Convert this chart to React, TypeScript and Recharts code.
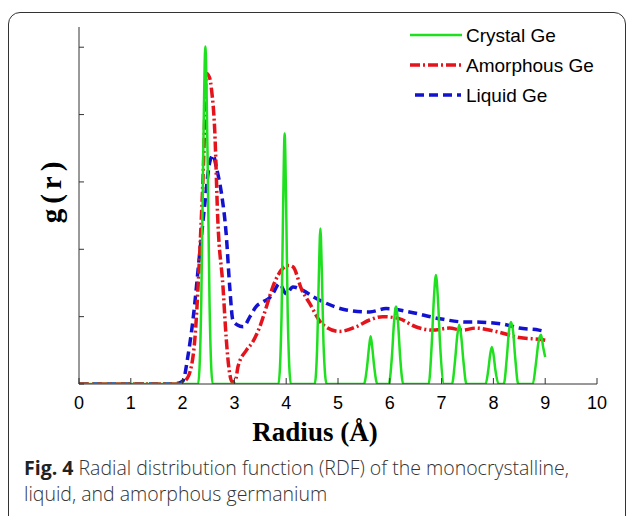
import { LineChart, Line, XAxis, YAxis } from "recharts"

// r in Angstrom, g(r) in units of the y tick spacing (ticks carry no labels)
const crystalR = [
  0, 2.3, 2.36, 2.4, 2.44, 2.48, 2.52, 2.58,
  3.85, 3.91, 3.94, 3.97, 4.0, 4.03, 4.09,
  4.55, 4.6, 4.63, 4.66, 4.69, 4.72, 4.78,
  5.5, 5.56, 5.6, 5.63, 5.66, 5.7, 5.76,
  5.98, 6.04, 6.08, 6.12, 6.16, 6.2, 6.26,
  6.75, 6.81, 6.85, 6.89, 6.93, 6.97, 7.05,
  7.2, 7.26, 7.3, 7.34, 7.38, 7.42, 7.48,
  7.85, 7.9, 7.94, 7.97, 8.0, 8.04, 8.1,
  8.2, 8.26, 8.3, 8.34, 8.38, 8.42, 8.48,
  8.76, 8.82, 8.87, 8.92, 8.96, 9.0,
]
const crystalG = [
  0, 0, 1.2, 3.5, 5.01, 3.5, 1.2, 0,
  0, 1.0, 2.6, 3.72, 2.6, 1.0, 0,
  0, 0.6, 1.6, 2.31, 1.6, 0.6, 0,
  0, 0.25, 0.55, 0.71, 0.55, 0.25, 0,
  0, 0.4, 0.9, 1.15, 0.9, 0.4, 0,
  0, 0.6, 1.25, 1.62, 1.25, 0.6, 0,
  0, 0.35, 0.7, 0.88, 0.7, 0.35, 0,
  0, 0.2, 0.45, 0.55, 0.45, 0.2, 0,
  0, 0.4, 0.78, 0.92, 0.78, 0.4, 0,
  0, 0.3, 0.62, 0.73, 0.55, 0.4,
]

const amorphR = [
  0, 1.9, 2.05, 2.15, 2.24, 2.33, 2.4, 2.46, 2.52, 2.56, 2.62, 2.68, 2.78, 2.84, 2.9, 2.96,
  3.02, 3.07, 3.23, 3.35, 3.49, 3.62, 3.74, 3.94, 4.05, 4.13, 4.3, 4.45, 4.71, 5.03, 5.35,
  5.61, 5.86, 6.18, 6.5, 6.83, 7.15, 7.4, 7.66, 8.05, 8.5, 8.92, 9.0,
]
const amorphG = [
  0, 0, 0.05, 0.2, 0.7, 1.94, 3.18, 4.61, 4.55, 4.36, 3.77, 2.43, 1.44, 0.7, 0.2, 0.03,
  0.05, 0.26, 0.5, 0.62, 0.85, 1.15, 1.44, 1.72, 1.76, 1.74, 1.4, 1.2, 0.88, 0.78, 0.85,
  0.95, 1.0, 0.97, 0.85, 0.8, 0.83, 0.8, 0.83, 0.78, 0.69, 0.66, 0.65,
]

const liquidR = [
  0, 1.8, 1.95, 2.01, 2.1, 2.2, 2.33, 2.43, 2.52, 2.59, 2.65, 2.75, 2.84, 2.91, 2.97, 3.05,
  3.17, 3.3, 3.42, 3.55, 3.68, 3.74, 3.87, 4.0, 4.13, 4.32, 4.51, 4.71, 5.16, 5.61, 5.93,
  6.38, 6.96, 7.47, 7.6, 8.18, 8.5, 8.88, 9.0,
]
const liquidG = [
  0, 0, 0.02, 0.05, 0.4, 0.95, 1.94, 2.68, 3.28, 3.4, 3.22, 2.83, 2.24, 1.44, 0.95, 0.88,
  0.85, 1.0, 1.15, 1.22, 1.28, 1.34, 1.49, 1.34, 1.44, 1.39, 1.3, 1.22, 1.1, 1.07, 1.12,
  1.07, 0.97, 0.92, 0.92, 0.89, 0.83, 0.8, 0.78,
]

const xTicks = [0, 1, 2, 3, 4, 5, 6, 7, 8, 9, 10]
const yTicks = [0, 1, 2, 3, 4, 5]

const seriesNames = ["Crystal Ge", "Amorphous Ge", "Liquid Ge"]

const toPoints = (r: number[], g: number[]) => r.map((v, i) => ({ r: v, g: g[i] }))

const GREEN = "#1fe01f"
const RED = "#e4141c"
const BLUE = "#1212d0"

export default function App() {
  const crystal = toPoints(crystalR, crystalG)
  const amorph = toPoints(amorphR, amorphG)
  const liquid = toPoints(liquidR, liquidG)

  return (
    <div style={{ position: "absolute", left: 0, top: 0, width: 627, height: 516, overflow: "hidden", background: "#fff" }}>
      <div
        style={{
          position: "absolute",
          left: 8,
          top: 12,
          width: 616,
          height: 520,
          border: "1.5px solid #333",
          borderRadius: 12,
        }}
      />
      <div style={{ position: "absolute", left: 0, top: 0 }}>
        <LineChart width={627} height={516} margin={{ top: 27, right: 30, bottom: 102, left: 49 }}>
          <XAxis
            dataKey="r"
            type="number"
            domain={[0, 10]}
            ticks={xTicks}
            allowDataOverflow
            height={30}
            stroke="#333"
            tickSize={-6}
            tickMargin={18}
            tick={{ fill: "#000", fontSize: 18, fontFamily: "Liberation Sans, Arial, sans-serif" }}
          />
          <YAxis
            dataKey="g"
            type="number"
            domain={[0, 5.3]}
            ticks={yTicks}
            allowDataOverflow
            width={30}
            stroke="#333"
            tickSize={-5}
            tickFormatter={() => ""}
          />
          <Line
            data={liquid}
            dataKey="g"
            type="monotone"
            stroke={BLUE}
            strokeWidth={3.5}
            strokeDasharray="9 5"
            dot={false}
            isAnimationActive={false}
          />
          <Line
            data={amorph}
            dataKey="g"
            type="monotone"
            stroke={RED}
            strokeWidth={3.5}
            strokeDasharray="10 3 2 3"
            dot={false}
            isAnimationActive={false}
          />
          <Line
            data={crystal}
            dataKey="g"
            type="monotone"
            stroke={GREEN}
            strokeWidth={2.5}
            dot={false}
            isAnimationActive={false}
          />
        </LineChart>
      </div>

      {/* legend */}
      <svg style={{ position: "absolute", left: 405, top: 22 }} width={200} height={90}>
        <line x1={5} y1={13} x2={57} y2={13} stroke={GREEN} strokeWidth={2.5} />
        <line x1={5} y1={43} x2={57} y2={43} stroke={RED} strokeWidth={3.5} strokeDasharray="10 3 2 3" />
        <line x1={10} y1={73} x2={56} y2={73} stroke={BLUE} strokeWidth={3.5} strokeDasharray="9 5" />
        {seriesNames.map((name, i) => (
          <text
            key={name}
            x={61}
            y={13 + i * 30}
            dy="0.36em"
            fontSize={19}
            fontFamily="Liberation Sans, Arial, sans-serif"
            fill="#000"
          >
            {name}
          </text>
        ))}
      </svg>

      {/* axis titles */}
      <div
        style={{
          position: "absolute",
          left: 51,
          top: 190,
          transform: "translate(-50%, -50%) rotate(-90deg)",
          fontFamily: "Liberation Serif, Times New Roman, serif",
          fontWeight: "bold",
          fontSize: 29,
          letterSpacing: 5,
          whiteSpace: "nowrap",
        }}
      >
        g(r)
      </div>
      <div
        style={{
          position: "absolute",
          left: 315,
          top: 432,
          transform: "translate(-50%, -50%)",
          fontFamily: "Liberation Serif, Times New Roman, serif",
          fontWeight: "bold",
          fontSize: 27,
          whiteSpace: "nowrap",
        }}
      >
        Radius (Å)
      </div>

      {/* caption */}
      <div
        style={{
          position: "absolute",
          left: 24,
          top: 455,
          width: 600,
          fontFamily: "Open Sans, sans-serif",
          fontWeight: 300,
          fontSize: 19.5,
          lineHeight: "26px",
          color: "#333",
          whiteSpace: "nowrap",
        }}
      >
        <b style={{ fontWeight: 700, color: "#222" }}>Fig. 4</b> Radial distribution function (RDF) of the monocrystalline,
        <br />
        liquid, and amorphous germanium
      </div>
    </div>
  )
}
